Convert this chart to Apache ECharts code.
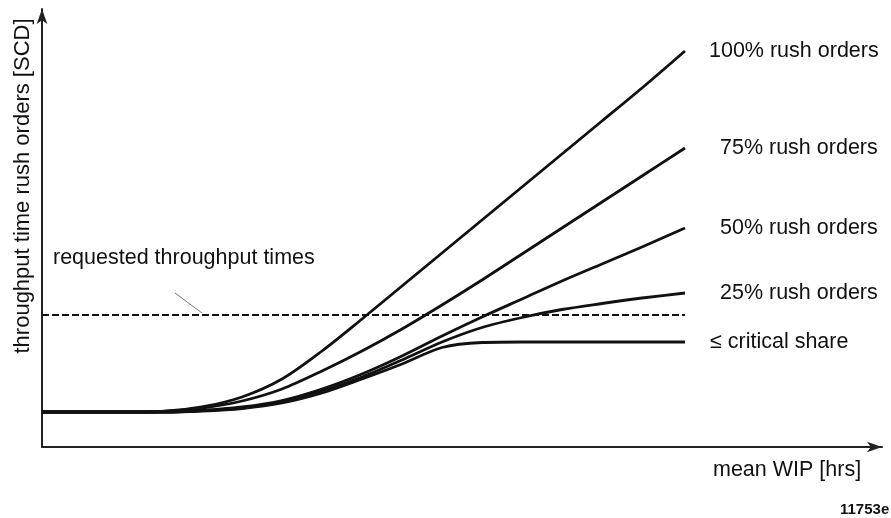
<!DOCTYPE html>
<html>
<head>
<meta charset="utf-8">
<script src="https://cdn.jsdelivr.net/npm/echarts@6/dist/echarts.min.js"></script>
<style>html,body{margin:0;padding:0;background:#fff;}#c{width:891px;height:518px;}</style>
</head>
<body>
<div id="c"></div>
<script>
// mean WIP (arbitrary units)
const wip = [0,40,80,120,160,200,240,280,320,360,400,440,480,520,560,600,643];
// throughput time of rush orders (arbitrary units)
const rush100 = [35,35,35,35.5,40,50,68,96,128,161,194,227,260,293,326,359,396];
const rush75  = [35,35,35,35.5,39,46,58,76,96,118,142,167,193,219,245,271,299];
const rush50  = [35,35,35,35,36.5,40,46.5,58,73,91,111,130,148,166,183,200,219];
const rush25  = [35,35,35,35,36.5,39,45,56,70,87,105,119.5,129.5,137.5,143.5,149,154];
const critical= [35,35,35,35,36,38.5,44,54,68,83,99.5,104.5,105,105,105,105,105];
const requestedX = [0,643];
const requestedY = [132,132];
const pointerX = [133,160];
const pointerY = [154,134];
const seriesNames = ['100% rush orders','75% rush orders','50% rush orders','25% rush orders','\u2264 critical share'];
const seriesValues = [rush100, rush75, rush50, rush25, critical];
const labelGaps = [24,35,35,35,25];

const FONT = "'Liberation Sans', Arial, Helvetica, sans-serif";
const pairs = (xs, ys) => xs.map((x,i)=>[x, ys[i]]);

const chart = echarts.init(document.getElementById('c'));
const series = seriesValues.map((vals, i) => ({
  type: 'line',
  name: seriesNames[i],
  data: pairs(wip, vals),
  showSymbol: false,
  smooth: 0.3,
  lineStyle: {color: '#111', width: 2.8},
  endLabel: {show: true, formatter: seriesNames[i], distance: labelGaps[i], color: '#111', fontSize: 21.5, fontFamily: FONT},
  z: 3
}));
series.push({
  type: 'line', data: pairs(requestedX, requestedY), showSymbol: false,
  lineStyle: {color: '#111', width: 2, type: [7,3]}, z: 2
});
series.push({
  type: 'line', data: pairs(pointerX, pointerY), showSymbol: false,
  lineStyle: {color: '#777', width: 1}, z: 2
});

chart.setOption({
  animation: false,
  backgroundColor: '#fff',
  grid: {left: 42, right: 9, top: 9, bottom: 71},
  xAxis: {
    type: 'value', min: 0, max: 840,
    axisLine: {show: true, symbol: ['none','arrow'], symbolSize: [8,15], lineStyle: {color: '#222', width: 2}},
    axisTick: {show: false}, axisLabel: {show: false}, splitLine: {show: false}
  },
  yAxis: {
    type: 'value', min: 0, max: 438,
    axisLine: {show: true, symbol: ['none','arrow'], symbolSize: [8,15], lineStyle: {color: '#222', width: 2}},
    axisTick: {show: false}, axisLabel: {show: false}, splitLine: {show: false}
  },
  series: series,
  graphic: [
    {type: 'text', x: 23, y: 186, rotation: Math.PI/2,
     style: {text: 'throughput time rush orders [SCD]', fill: '#111', font: '22px ' + FONT, textAlign: 'center', textVerticalAlign: 'middle'}},
    {type: 'text', x: 713, y: 470,
     style: {text: 'mean WIP [hrs]', fill: '#111', font: '21.5px ' + FONT, textAlign: 'left', textVerticalAlign: 'middle'}},
    {type: 'text', x: 53, y: 258,
     style: {text: 'requested throughput times', fill: '#111', font: '21.5px ' + FONT, textAlign: 'left', textVerticalAlign: 'middle'}},
    {type: 'text', x: 840, y: 510,
     style: {text: '11753e', fill: '#111', font: 'bold 15px ' + FONT, textAlign: 'left', textVerticalAlign: 'middle'}}
  ]
});
</script>
</body>
</html>
